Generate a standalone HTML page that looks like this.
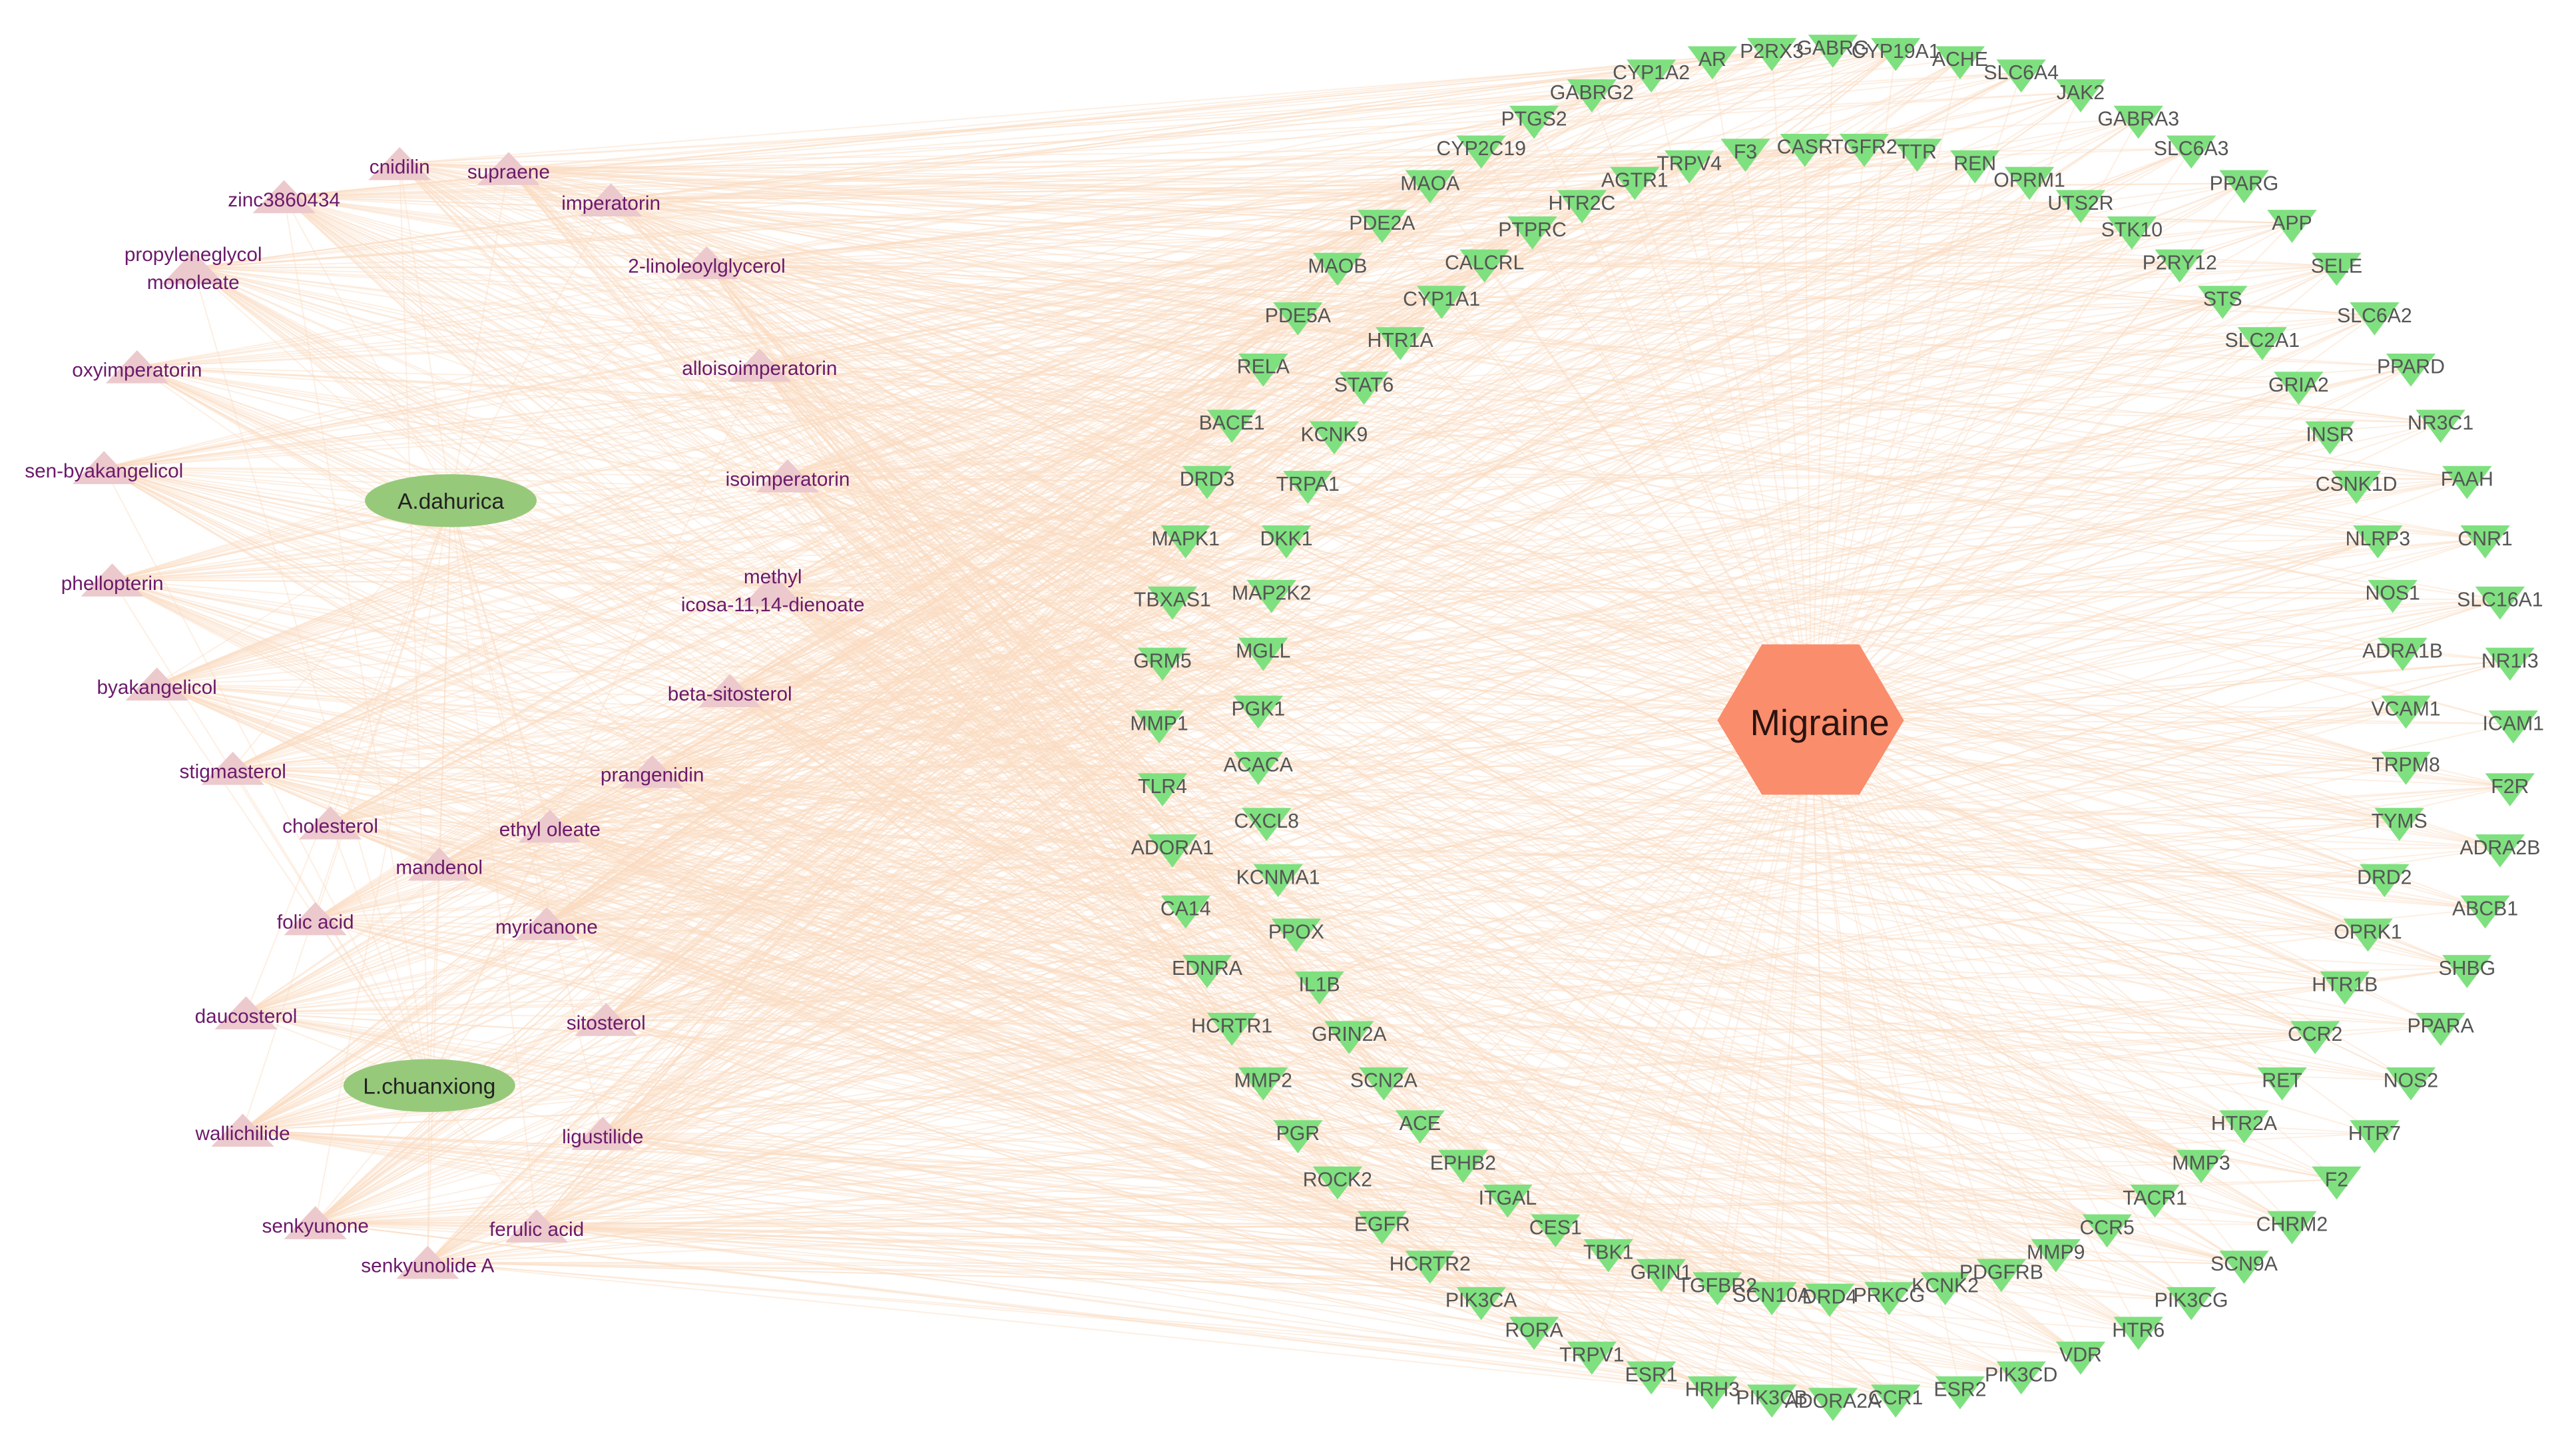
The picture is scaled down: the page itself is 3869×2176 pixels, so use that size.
<!DOCTYPE html>
<html><head><meta charset="utf-8"><style>
html,body{margin:0;padding:0;background:#fff;}
svg{display:block;}
.t{font-family:"Liberation Sans",sans-serif;font-size:12.2px;fill:#555;text-anchor:middle;}
.s{font-family:"Liberation Sans",sans-serif;font-size:12px;fill:#6b1a6b;text-anchor:middle;}
</style></head><body>
<svg id="g" width="3869" height="2176" viewBox="0 0 1560 877" preserveAspectRatio="none" xmlns="http://www.w3.org/2000/svg">
<rect width="1560" height="877" fill="#fff"/>
<g id="edges" stroke="#fadcc0" stroke-width="0.8" stroke-opacity="0.45" fill="none"></g>
<g id="shapes"></g>
<ellipse cx="273" cy="303" rx="52" ry="16" fill="#97c97a"/>
<ellipse cx="260" cy="657" rx="52" ry="16" fill="#97c97a"/>
<polygon points="1040,436 1067,390 1126,390 1153,436 1126,481 1067,481" fill="#fa8d6c"/>
<text x="1102" y="445" font-family="Liberation Sans,sans-serif" font-size="22" fill="#2a1410" text-anchor="middle">Migraine</text>
<text x="273" y="308" font-family="Liberation Sans,sans-serif" font-size="13.5" fill="#222" text-anchor="middle">A.dahurica</text>
<text x="260" y="662" font-family="Liberation Sans,sans-serif" font-size="13.5" fill="#222" text-anchor="middle">L.chuanxiong</text>
<g id="targets">
<text class="t" x="1000" y="48">CYP1A2</text><text class="t" x="1037" y="40">AR</text><text class="t" x="1073" y="35">P2RX3</text><text class="t" x="1110" y="33">GABRG</text><text class="t" x="1148" y="35">CYP19A1</text><text class="t" x="1187" y="40">ACHE</text><text class="t" x="1224" y="48">SLC6A4</text><text class="t" x="1260" y="60">JAK2</text><text class="t" x="1295" y="76">GABRA3</text><text class="t" x="1327" y="94">SLC6A3</text><text class="t" x="1359" y="115">PPARG</text><text class="t" x="1388" y="139">APP</text><text class="t" x="1415" y="165">SELE</text><text class="t" x="1438" y="195">SLC6A2</text><text class="t" x="1460" y="226">PPARD</text><text class="t" x="1478" y="260">NR3C1</text><text class="t" x="1494" y="294">FAAH</text><text class="t" x="1505" y="330">CNR1</text><text class="t" x="1514" y="367">SLC16A1</text><text class="t" x="1520" y="404">NR1I3</text><text class="t" x="1522" y="442">ICAM1</text><text class="t" x="1520" y="480">F2R</text><text class="t" x="1514" y="517">ADRA2B</text><text class="t" x="1505" y="554">ABCB1</text><text class="t" x="1494" y="590">SHBG</text><text class="t" x="1478" y="625">PPARA</text><text class="t" x="1460" y="658">NOS2</text><text class="t" x="1438" y="690">HTR7</text><text class="t" x="1415" y="718">F2</text><text class="t" x="1388" y="745">CHRM2</text><text class="t" x="1359" y="769">SCN9A</text><text class="t" x="1327" y="791">PIK3CG</text><text class="t" x="1295" y="809">HTR6</text><text class="t" x="1260" y="824">VDR</text><text class="t" x="1224" y="836">PIK3CD</text><text class="t" x="1187" y="845">ESR2</text><text class="t" x="1148" y="850">CCR1</text><text class="t" x="1110" y="852">ADORA2A</text><text class="t" x="1073" y="850">PIK3CB</text><text class="t" x="1037" y="845">HRH3</text><text class="t" x="1000" y="836">ESR1</text><text class="t" x="964" y="824">TRPV1</text><text class="t" x="929" y="809">RORA</text><text class="t" x="897" y="791">PIK3CA</text><text class="t" x="866" y="769">HCRTR2</text><text class="t" x="837" y="745">EGFR</text><text class="t" x="810" y="718">ROCK2</text><text class="t" x="786" y="690">PGR</text><text class="t" x="765" y="658">MMP2</text><text class="t" x="746" y="625">HCRTR1</text><text class="t" x="731" y="590">EDNRA</text><text class="t" x="718" y="554">CA14</text><text class="t" x="710" y="517">ADORA1</text><text class="t" x="704" y="480">TLR4</text><text class="t" x="702" y="442">MMP1</text><text class="t" x="704" y="404">GRM5</text><text class="t" x="710" y="367">TBXAS1</text><text class="t" x="718" y="330">MAPK1</text><text class="t" x="731" y="294">DRD3</text><text class="t" x="746" y="260">BACE1</text><text class="t" x="765" y="226">RELA</text><text class="t" x="786" y="195">PDE5A</text><text class="t" x="810" y="165">MAOB</text><text class="t" x="837" y="139">PDE2A</text><text class="t" x="866" y="115">MAOA</text><text class="t" x="897" y="94">CYP2C19</text><text class="t" x="929" y="76">PTGS2</text><text class="t" x="964" y="60">GABRG2</text>
<text class="t" x="1023" y="103">TRPV4</text><text class="t" x="990" y="113">AGTR1</text><text class="t" x="958" y="127">HTR2C</text><text class="t" x="928" y="143">PTPRC</text><text class="t" x="899" y="163">CALCRL</text><text class="t" x="873" y="185">CYP1A1</text><text class="t" x="848" y="210">HTR1A</text><text class="t" x="826" y="237">STAT6</text><text class="t" x="808" y="267">KCNK9</text><text class="t" x="792" y="297">TRPA1</text><text class="t" x="779" y="330">DKK1</text><text class="t" x="770" y="363">MAP2K2</text><text class="t" x="765" y="398">MGLL</text><text class="t" x="762" y="433">PGK1</text><text class="t" x="762" y="467">ACACA</text><text class="t" x="767" y="501">CXCL8</text><text class="t" x="774" y="535">KCNMA1</text><text class="t" x="785" y="568">PPOX</text><text class="t" x="799" y="600">IL1B</text><text class="t" x="817" y="630">GRIN2A</text><text class="t" x="838" y="658">SCN2A</text><text class="t" x="860" y="684">ACE</text><text class="t" x="886" y="708">EPHB2</text><text class="t" x="913" y="729">ITGAL</text><text class="t" x="942" y="747">CES1</text><text class="t" x="974" y="762">TBK1</text><text class="t" x="1006" y="774">GRIN1</text><text class="t" x="1040" y="782">TGFBR2</text><text class="t" x="1073" y="788">SCN10A</text><text class="t" x="1108" y="789">DRD4</text><text class="t" x="1144" y="788">PRKCG</text><text class="t" x="1178" y="782">KCNK2</text><text class="t" x="1212" y="774">PDGFRB</text><text class="t" x="1245" y="762">MMP9</text><text class="t" x="1276" y="747">CCR5</text><text class="t" x="1305" y="729">TACR1</text><text class="t" x="1333" y="708">MMP3</text><text class="t" x="1359" y="684">HTR2A</text><text class="t" x="1382" y="658">RET</text><text class="t" x="1402" y="630">CCR2</text><text class="t" x="1420" y="600">HTR1B</text><text class="t" x="1434" y="568">OPRK1</text><text class="t" x="1444" y="535">DRD2</text><text class="t" x="1453" y="501">TYMS</text><text class="t" x="1457" y="467">TRPM8</text><text class="t" x="1457" y="433">VCAM1</text><text class="t" x="1455" y="398">ADRA1B</text><text class="t" x="1449" y="363">NOS1</text><text class="t" x="1440" y="330">NLRP3</text><text class="t" x="1427" y="297">CSNK1D</text><text class="t" x="1411" y="267">INSR</text><text class="t" x="1392" y="237">GRIA2</text><text class="t" x="1370" y="210">SLC2A1</text><text class="t" x="1346" y="185">STS</text><text class="t" x="1320" y="163">P2RY12</text><text class="t" x="1291" y="143">STK10</text><text class="t" x="1260" y="127">UTS2R</text><text class="t" x="1229" y="113">OPRM1</text><text class="t" x="1196" y="103">REN</text><text class="t" x="1161" y="96">TTR</text><text class="t" x="1129" y="93">TGFR2</text><text class="t" x="1093" y="93">CASR</text><text class="t" x="1057" y="96">F3</text>
</g>
<g id="sources">
<text class="s" x="242" y="105">cnidilin</text><text class="s" x="308" y="108">supraene</text><text class="s" x="172" y="125">zinc3860434</text><text class="s" x="370" y="127">imperatorin</text><text class="s" x="117" y="158">propyleneglycol</text><text class="s" x="117" y="175" data-x="1">monoleate</text><text class="s" x="428" y="165">2-linoleoylglycerol</text><text class="s" x="460" y="227">alloisoimperatorin</text><text class="s" x="83" y="228">oxyimperatorin</text><text class="s" x="63" y="289">sen-byakangelicol</text><text class="s" x="477" y="294">isoimperatorin</text><text class="s" x="68" y="357">phellopterin</text><text class="s" x="468" y="353">methyl</text><text class="s" x="468" y="370" data-x="1">icosa-11,14-dienoate</text><text class="s" x="95" y="420">byakangelicol</text><text class="s" x="442" y="424">beta-sitosterol</text><text class="s" x="141" y="471">stigmasterol</text><text class="s" x="395" y="473">prangenidin</text><text class="s" x="200" y="504">cholesterol</text><text class="s" x="333" y="506">ethyl oleate</text><text class="s" x="266" y="529">mandenol</text><text class="s" x="191" y="562">folic acid</text><text class="s" x="331" y="565">myricanone</text><text class="s" x="149" y="619">daucosterol</text><text class="s" x="367" y="623">sitosterol</text><text class="s" x="147" y="690">wallichilide</text><text class="s" x="365" y="692">ligustilide</text><text class="s" x="191" y="746">senkyunone</text><text class="s" x="325" y="748">ferulic acid</text><text class="s" x="259" y="770">senkyunolide A</text>
</g>
</svg>
<script>
(function(){
var NS="http://www.w3.org/2000/svg";
var E=document.getElementById("edges"),S=document.getElementById("shapes");
var seed=12345;function rnd(){seed=(seed*1103515245+12345)&0x7fffffff;return seed/0x7fffffff;}
function line(a,b,c,d){var l=document.createElementNS(NS,"line");l.setAttribute("x1",a);l.setAttribute("y1",b);l.setAttribute("x2",c);l.setAttribute("y2",d);E.appendChild(l);}
function poly(p,f){var q=document.createElementNS(NS,"polygon");q.setAttribute("points",p);q.setAttribute("fill",f);S.appendChild(q);}
var T=[],Sr=[];
document.querySelectorAll("#targets text").forEach(function(t){var x=+t.getAttribute("x"),y=+t.getAttribute("y");T.push([x,y]);
 poly((x-15)+","+(y-12)+" "+(x+15)+","+(y-12)+" "+x+","+(y+8),"#7fe07f");});
document.querySelectorAll("#sources text").forEach(function(t){if(t.hasAttribute("data-x"))return;var x=+t.getAttribute("x"),y=+t.getAttribute("y");
 if(t.textContent=="propyleneglycol")y+=10; if(t.textContent=="methyl")y+=10;
 Sr.push([x,y]);poly((x-19)+","+(y+4)+" "+(x+19)+","+(y+4)+" "+x+","+(y-16),"#ecc9cc");});
T.forEach(function(p){line(1097,436,p[0],p[1]-4);});
Sr.forEach(function(s,i){line(273,303,s[0],s[1]-6);if(i%2==0||s[1]>500)line(260,657,s[0],s[1]-6);});
Sr.forEach(function(s){T.forEach(function(p){if(rnd()<0.36)line(s[0],s[1]-6,p[0],p[1]-4);});});
})();
</script>
</body></html>
